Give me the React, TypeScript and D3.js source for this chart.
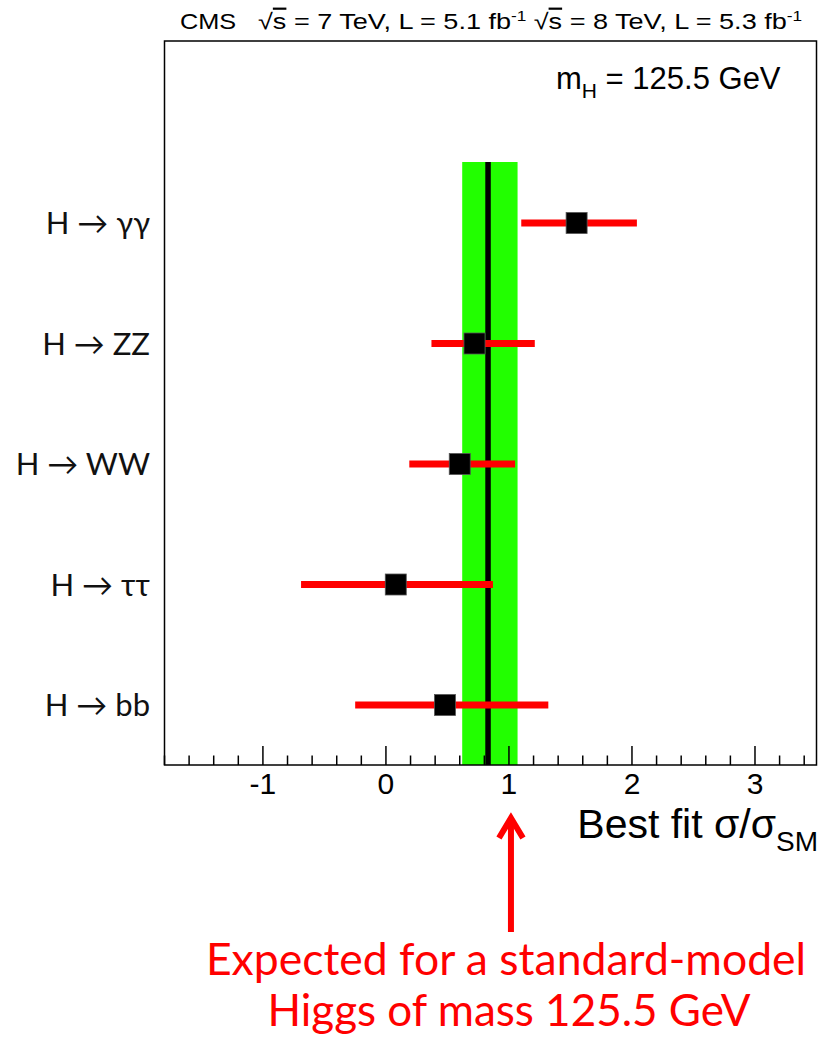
import * as d3 from "d3";

const channels = ["H → γγ", "H → ZZ", "H → WW", "H → ττ", "H → bb"];
const bestFit = [1.55, 0.72, 0.6, 0.08, 0.48];
const errLow = [1.1, 0.37, 0.19, -0.69, -0.25];
const errHigh = [2.04, 1.21, 1.05, 0.87, 1.32];
const combined = 0.83;
const combinedBand = [0.62, 1.07];
const xTicks = [-1, 0, 1, 2, 3];

const W = 823;
const H = 1038;
const frame = { left: 164.5, right: 816.5, top: 41, bottom: 765 };
const rootFont = "'Liberation Sans', Arial, sans-serif";
const labelFont = "Lato, 'Open Sans', sans-serif";

export default function App() {
  const x = d3.scaleLinear().domain([-1.8, 3.5]).range([frame.left, frame.right]);
  const y = d3.scalePoint<string>().domain(channels).range([223, 705]);

  // minor ticks every 0.2
  const minor = d3.range(-18, 36, 2).map((v) => v / 10).filter((v) => Math.abs(v - Math.round(v)) > 1e-6);
  const arrowX = x(1) + 2;

  return (
    <svg width={W} height={H} style={{ position: "absolute", left: 0, top: 0, background: "white" }}>
      {/* header */}
      <text x={180} y={29} fontFamily={rootFont} fontSize={22} transform="translate(180,0) scale(1.15,1) translate(-180,0)">CMS</text>
      <text x={258} y={29} fontFamily={rootFont} fontSize={22} transform="translate(258,0) scale(1.23,1) translate(-258,0)">
        √<tspan textDecoration="overline">s</tspan> = 7 TeV, L = 5.1 fb<tspan dy={-8} fontSize={14}>-1</tspan>
        <tspan dy={8} dx={6}>√</tspan><tspan textDecoration="overline">s</tspan> = 8 TeV, L = 5.3 fb<tspan dy={-8} fontSize={14}>-1</tspan>
      </text>

      {/* combined band */}
      <rect x={x(combinedBand[0])} y={162} width={x(combinedBand[1]) - x(combinedBand[0])} height={frame.bottom - 162} fill="#22ff00" />
      <line x1={x(combined)} x2={x(combined)} y1={162} y2={frame.bottom} stroke="black" strokeWidth={5.5} />

      {/* channels */}
      {channels.map((c, i) => (
        <g key={c}>
          <line x1={x(errLow[i])} x2={x(errHigh[i])} y1={y(c)} y2={y(c)} stroke="#ff0000" strokeWidth={7} />
          <rect x={x(bestFit[i]) - 10.5} y={(y(c) as number) - 10.5} width={21} height={21} fill="black" stroke="#555" strokeWidth={0.8} />
          <text x={150} y={(y(c) as number) + 11} textAnchor="end" fontFamily={labelFont} fontSize={31} fill="#111">{c}</text>
        </g>
      ))}

      {/* frame */}
      <rect x={frame.left} y={frame.top} width={frame.right - frame.left} height={frame.bottom - frame.top} fill="none" stroke="black" strokeWidth={1.5} />
      {xTicks.map((t) => (
        <g key={t}>
          <line x1={x(t)} x2={x(t)} y1={frame.bottom} y2={frame.bottom - 19} stroke="black" strokeWidth={1.5} />
          <text x={x(t)} y={794} textAnchor="middle" fontFamily={rootFont} fontSize={30}>{t}</text>
        </g>
      ))}
      {minor.map((t) => (
        <line key={t} x1={x(t)} x2={x(t)} y1={frame.bottom} y2={frame.bottom - 9.5} stroke="black" strokeWidth={1.5} />
      ))}
      <text x={818} y={838} textAnchor="end" fontFamily={rootFont} fontSize={41}>
        Best fit σ/σ<tspan dy={13} fontSize={28}>SM</tspan>
      </text>

      <text x={556} y={89} fontFamily={rootFont} fontSize={31}>
        m<tspan dy={9} fontSize={21}>H</tspan><tspan dy={-9}> = 125.5 GeV</tspan>
      </text>

      {/* annotation */}
      <line x1={arrowX} x2={arrowX} y1={932} y2={818} stroke="#ff0000" strokeWidth={6} />
      <polyline points={`${arrowX - 12},${838} ${arrowX},${818} ${arrowX + 12},${838}`} fill="none" stroke="#ff0000" strokeWidth={6} />
      <text x={506} y={975} textAnchor="middle" fontFamily={labelFont} fontSize={44.5} fill="#ff0000">Expected for a standard-model</text>
      <text x={509} y={1026} textAnchor="middle" fontFamily={labelFont} fontSize={44} fill="#ff0000">Higgs of mass 125.5 GeV</text>
    </svg>
  );
}
